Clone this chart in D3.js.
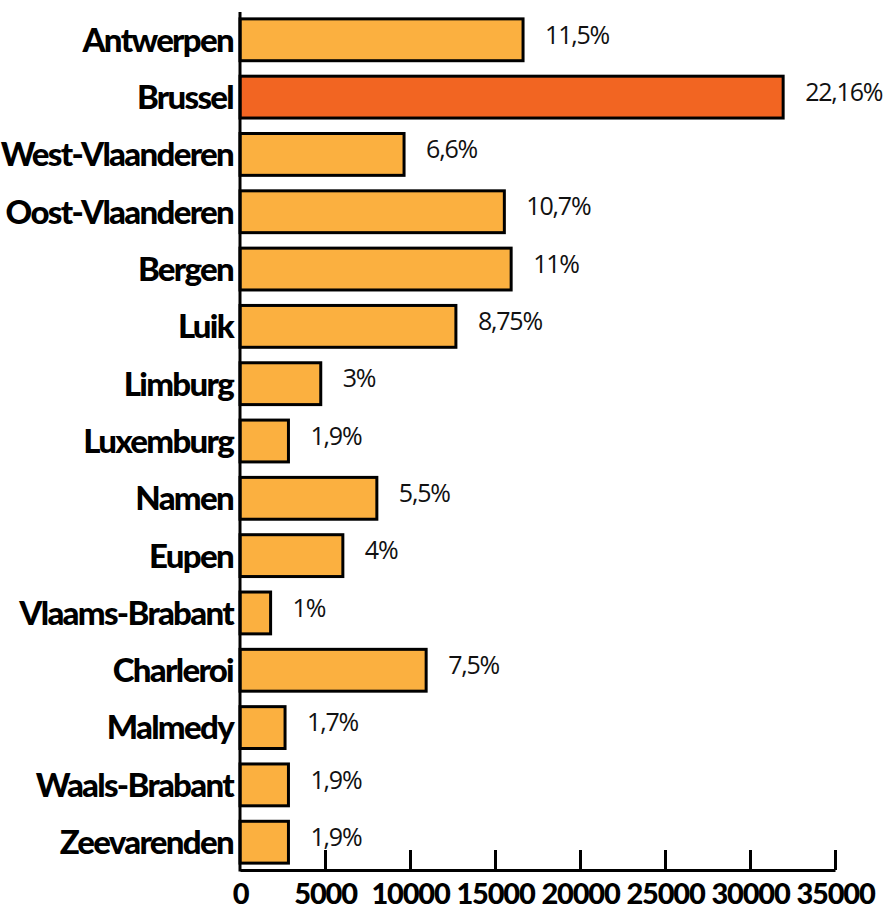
<!DOCTYPE html>
<html>
<head>
<meta charset="utf-8">
<script src="https://cdn.jsdelivr.net/npm/d3@7"></script>
<style>
  body { margin: 0; background: #fff; }
  svg { display: block; }
</style>
</head>
<body>
<div id="chart"></div>
<script>
// regions, bar values and the percentage printed next to each bar
const regions = ["Antwerpen", "Brussel", "West-Vlaanderen", "Oost-Vlaanderen", "Bergen", "Luik",
  "Limburg", "Luxemburg", "Namen", "Eupen", "Vlaams-Brabant", "Charleroi", "Malmedy",
  "Waals-Brabant", "Zeevarenden"];
const values = [16650, 31950, 9650, 15550, 15950, 12700, 4750, 2850, 8050, 6050, 1800, 10950, 2650, 2850, 2850];
const shares = ["11,5%", "22,16%", "6,6%", "10,7%", "11%", "8,75%", "3%", "1,9%", "5,5%", "4%",
  "1%", "7,5%", "1,7%", "1,9%", "1,9%"];
const highlight = "Brussel";
const xTicks = [0, 5000, 10000, 15000, 20000, 25000, 30000, 35000];

const width = 892, height = 910;
const margin = { top: 12, right: 57, bottom: 40, left: 240 };

const svg = d3.select("#chart").append("svg")
  .attr("width", width)
  .attr("height", height);

const x = d3.scaleLinear()
  .domain([0, 35000])
  .range([margin.left, width - margin.right]);

const y = d3.scaleBand()
  .domain(regions)
  .range([margin.top, height - margin.bottom])
  .paddingInner(0.27)
  .paddingOuter(0.12);

// bars
svg.append("g")
  .selectAll("rect")
  .data(regions)
  .join("rect")
  .attr("x", x(0))
  .attr("y", d => y(d))
  .attr("width", (d, i) => x(values[i]) - x(0))
  .attr("height", y.bandwidth())
  .attr("fill", d => d === highlight ? "#f26522" : "#fbb040")
  .attr("stroke", "#000")
  .attr("stroke-width", 3);

// percentage labels
svg.append("g")
  .selectAll("text")
  .data(regions)
  .join("text")
  .attr("x", (d, i) => x(values[i]) + 22)
  .attr("y", d => y(d) + y.bandwidth() / 2 - 5)
  .attr("dy", "0.35em")
  .style("font-family", "'Open Sans', sans-serif")
  .style("font-size", "25px")
  .style("letter-spacing", "-1.2px")
  .style("fill", "#111")
  .text((d, i) => shares[i]);

// category labels
svg.append("g")
  .selectAll("text")
  .data(regions)
  .join("text")
  .attr("x", margin.left - 7)
  .attr("y", d => y(d) + y.bandwidth() / 2)
  .attr("dy", "0.36em")
  .attr("text-anchor", "end")
  .style("font-family", "Lato, sans-serif")
  .style("font-weight", 900)
  .style("font-size", "33px")
  .style("letter-spacing", "-1.7px")
  .style("fill", "#000")
  .text(d => d);

// x axis, ticks pointing up into the plot
const axisY = height - margin.bottom;
svg.append("g")
  .attr("transform", `translate(0,${axisY})`)
  .call(d3.axisBottom(x).tickValues(xTicks).tickFormat(d3.format("d"))
    .tickSizeInner(-20).tickSizeOuter(0).tickPadding(13))
  .call(g => g.select(".domain").attr("stroke", "#000").attr("stroke-width", 3))
  .call(g => g.selectAll(".tick line").attr("stroke", "#000").attr("stroke-width", 3))
  .call(g => g.selectAll(".tick").filter(d => d === 0).select("line").remove())
  .call(g => g.selectAll(".tick text")
    .attr("fill", "#000")
    .style("font-family", "Lato, sans-serif")
    .style("font-weight", 900)
    .style("font-size", "29px")
    .style("letter-spacing", "-1.2px"));

// y axis line
svg.append("line")
  .attr("x1", x(0)).attr("x2", x(0))
  .attr("y1", margin.top).attr("y2", axisY + 1.5)
  .attr("stroke", "#000")
  .attr("stroke-width", 3);
</script>
</body>
</html>
